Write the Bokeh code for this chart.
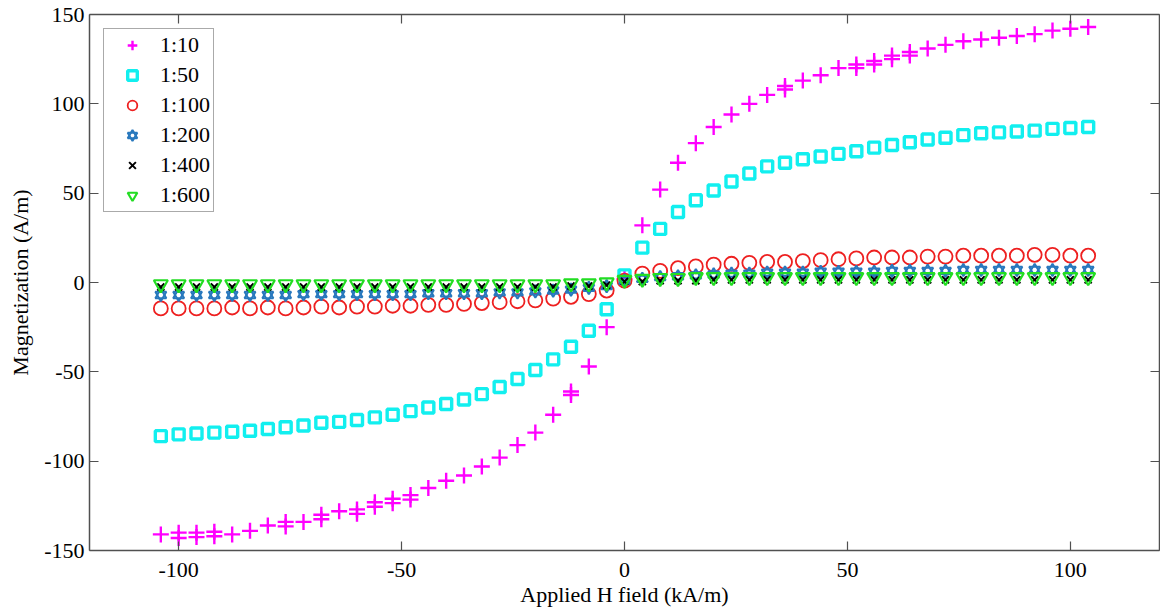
from bokeh.plotting import figure
from bokeh.models import LinearAxis, Legend, LegendItem, Range1d, FixedTicker, CustomJSTickFormatter
from bokeh.embed import file_html
from bokeh.resources import INLINE

# ---------------- data ----------------
field = [-104, -100, -96, -92, -88, -84, -80, -76, -72, -68, -64, -60, -56, -52,
         -48, -44, -40, -36, -32, -28, -24, -20, -16, -12, -8, -4, 0,
         4, 8, 12, 16, 20, 24, 28, 32, 36, 40, 44, 48, 52, 56, 60, 64, 68, 72,
         76, 80, 84, 88, 92, 96, 100, 104]

m_10 = [-141, -140, -140, -142, -141, -139, -136, -134, -134, -130, -128, -127, -123, -121,
        -119, -115, -111, -108, -103, -98, -91, -84, -74, -63, -47, -25, 2,
        32, 52, 67, 78, 87, 94, 100, 105, 110, 113, 116, 120, 122, 124, 127, 129, 131, 133,
        135, 136, 137, 138, 139, 141, 142, 143]

# second-sweep points of 1:10 that are visibly offset from the first sweep
field_10b = [-100, -96, -92, -76, -68, -60, -56, -52, -48, -12, 36, 52, 56, 60, 64]
m_10b = [-143, -142.5, -139.5, -136.5, -132.5, -129.5, -125.5, -123.5, -121.5, -61,
         108, 120, 122, 125, 127]

m_50 = [-86, -85, -84.5, -84, -83.5, -83, -82, -81, -80, -78.5, -78, -77, -75.5, -74,
        -72, -70, -68, -65.5, -62.5, -58.5, -54, -49, -43, -36, -27, -15, 4,
        19.5, 30, 39.5, 46, 51.5, 56.5, 61, 65, 67, 69, 70.5, 72, 73.5, 75.5, 77, 78.5, 80, 81,
        82.5, 83.5, 84, 84.5, 85, 86, 86.5, 87]

m_100 = [-14.5, -14.5, -14.5, -14.5, -14, -14.5, -14, -14.5, -14, -13.5, -14, -13.5, -13.5, -13,
         -13, -12.5, -12.5, -12, -11.5, -11, -10.5, -10, -9, -8, -6.5, -4.5, 1,
         5, 6.5, 8, 9, 10, 10.5, 11, 11.5, 11.5, 12, 12.5, 13, 13.5, 14, 14, 14, 14.5, 14.5,
         15, 15, 15, 15, 15.5, 15.5, 15, 15]

m_200 = [-7, -7, -7, -7, -7, -7, -7, -7, -6.5, -6.5, -6.5, -6.5, -6.5, -6.5,
         -6.5, -6, -6, -6, -6, -5.5, -5.5, -5, -4.5, -4, -3, -2, 1,
         2, 3, 3.5, 4, 4.5, 5, 5, 5.5, 5.5, 5.5, 6, 6, 6, 6, 6.5, 6.5, 6.5, 6.5,
         7, 7, 7, 7, 7, 7, 7, 7]

m_400 = [-2.5, -2.5, -2.5, -2.5, -2.5, -2.5, -2.5, -2.5, -2.5, -2.5, -2.5, -2.5, -2.5, -2.5,
         -2.5, -2.5, -2.5, -2.5, -2.5, -2.5, -2.5, -2.5, -2.5, -2, -2, -1.5, 0.5,
         0.5, 1, 1, 1, 1.5, 1.5, 1.5, 1.5, 1.5, 1.5, 1.5, 1.5, 1.5, 1.5, 1.5, 1.5, 1.5, 1.5,
         1.5, 1.5, 1.5, 1.5, 1.5, 1.5, 1.5, 1.5]

m_600 = [-1, -1, -1, -1, -1, -1, -1, -1, -1, -1, -1, -1, -1, -1,
         -1, -1, -1, -1, -1, -1, -1, -1, -1, -0.5, -0.5, 0, 1.5,
         2, 2.5, 2.5, 3, 3, 3, 3, 3, 3, 3, 3, 3, 3, 3, 3, 3, 3, 3,
         3, 3, 3, 3, 3, 3, 3, 3]

x_ticks = [-100, -50, 0, 50, 100]
y_ticks = [-150, -100, -50, 0, 50, 100, 150]
labels = ["1:10", "1:50", "1:100", "1:200", "1:400", "1:600"]

# ---------------- figure ----------------
FONT = "Liberation Serif"
AXIS_COLOR = "#505050"

p = figure(frame_width=1070, frame_height=536,
           min_border_left=89, min_border_top=14, min_border_right=1, min_border_bottom=0,
           x_range=Range1d(-120, 120), y_range=Range1d(-150, 150),
           x_axis_label="Applied H field (kA/m)", y_axis_label="Magnetization (A/m)",
           output_backend="svg", toolbar_location=None)
p.grid.visible = False
p.outline_line_color = None
p.background_fill_color = "white"
p.border_fill_color = "white"

def style_axis(ax, ticks, show_labels=True):
    ax.ticker = FixedTicker(ticks=ticks)
    ax.axis_line_color = AXIS_COLOR
    ax.axis_line_width = 1.5
    ax.major_tick_line_color = AXIS_COLOR
    ax.major_tick_line_width = 1.2
    ax.major_tick_in = 9
    ax.major_tick_out = 0
    ax.minor_tick_line_color = None
    ax.major_label_text_font = FONT
    ax.major_label_text_color = "black"
    ax.major_label_text_font_size = "22px"
    ax.axis_label_text_font = FONT
    ax.axis_label_text_font_style = "normal"
    ax.axis_label_text_color = "black"
    ax.axis_label_text_font_size = "22px"
    if show_labels:
        ax.major_label_overrides = {t: str(t) for t in ticks}
    else:
        ax.formatter = CustomJSTickFormatter(code="return '';")
        ax.major_label_standoff = 0

style_axis(p.xaxis[0], x_ticks)
style_axis(p.yaxis[0], y_ticks)
p.xaxis[0].major_label_standoff = 12
p.xaxis[0].axis_label_standoff = 2
p.yaxis[0].major_label_standoff = 5
p.yaxis[0].axis_label_standoff = 8

top_ax = LinearAxis()
style_axis(top_ax, x_ticks, show_labels=False)
p.add_layout(top_ax, "above")
right_ax = LinearAxis()
style_axis(right_ax, y_ticks, show_labels=False)
p.add_layout(right_ax, "right")

# ---------------- series ----------------
r10 = p.scatter(field, m_10, marker="cross", size=16, line_color="#FF00FF", line_width=2.4)
r10b = p.scatter(field_10b, m_10b, marker="cross", size=16, line_color="#FF00FF", line_width=2.4)
r50 = p.scatter(field, m_50, marker="square", size=11, line_color="#12EFEF",
                fill_color=None, line_width=3.4)
r100 = p.scatter(field, m_100, marker="circle", size=14, line_color="#EE2020",
                 fill_color=None, line_width=1.8)
r200a = p.scatter(field, m_200, marker="triangle", size=11, line_color="#2878BD",
                  fill_color=None, line_width=2)
r200b = p.scatter(field, m_200, marker="inverted_triangle", size=11, line_color="#2878BD",
                  fill_color=None, line_width=2)
r400 = p.scatter(field, m_400, marker="x", size=10, line_color="black", line_width=2)
r600 = p.scatter(field, m_600, marker="inverted_triangle", size=14, line_color="#22DD22",
                 fill_color=None, line_width=2.2)

legend = Legend(items=[
    LegendItem(label=labels[0], renderers=[r10]),
    LegendItem(label=labels[1], renderers=[r50]),
    LegendItem(label=labels[2], renderers=[r100]),
    LegendItem(label=labels[3], renderers=[r200a, r200b]),
    LegendItem(label=labels[4], renderers=[r400]),
    LegendItem(label=labels[5], renderers=[r600]),
], location="top_left", margin=14, padding=3, spacing=4,
    label_height=24, glyph_width=50, glyph_height=24, label_standoff=3,
    label_text_font=FONT, label_text_font_size="22px", label_text_color="black",
    border_line_color="#555555", border_line_width=1.2, background_fill_alpha=1)
p.add_layout(legend)

open("out.html", "w").write(file_html(p, INLINE))
